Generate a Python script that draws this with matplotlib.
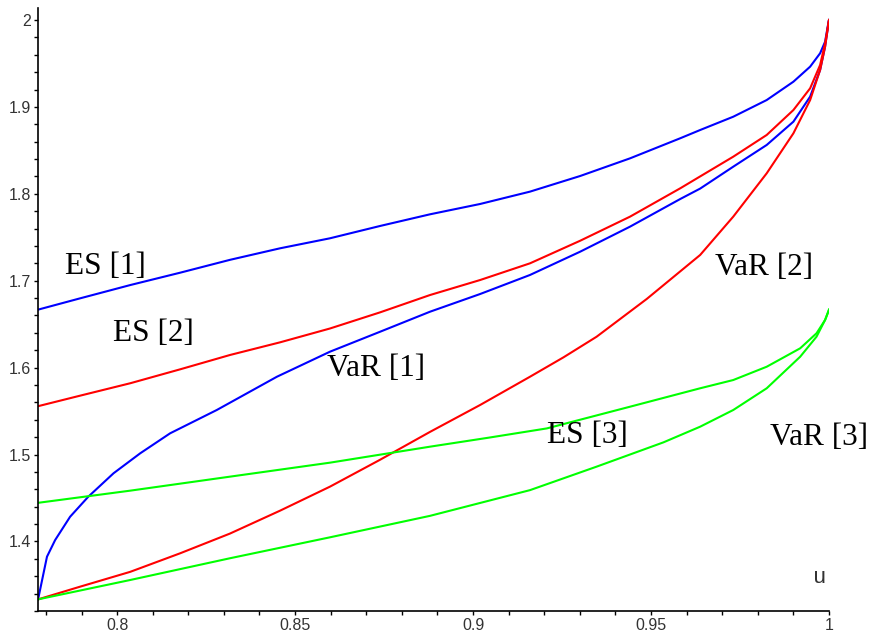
"""Risk-measure curves ES and VaR against the level u for three models."""

import matplotlib

matplotlib.use("Agg")
import matplotlib.pyplot as plt
from matplotlib.ticker import MultipleLocator

# ES [1] (blue, upper)
es1_u = [0.7778, 0.7896, 0.8037, 0.8177, 0.8317, 0.8458, 0.8598, 0.8739,
         0.8879, 0.9020, 0.9160, 0.9301, 0.9441, 0.9582, 0.9638, 0.9731,
         0.9825, 0.9900, 0.9947, 0.9975, 0.9989, 0.9998, 1.0]
es1_v = [1.6667, 1.6797, 1.6950, 1.7092, 1.7240, 1.7373, 1.7488, 1.7630,
         1.7764, 1.7883, 1.8025, 1.8205, 1.8408, 1.8639, 1.8734, 1.8887,
         1.9079, 1.9290, 1.9463, 1.9617, 1.9750, 1.9962, 2.0]

# VaR [1] (blue, lower)
var1_u = [0.7778, 0.7803, 0.7826, 0.7868, 0.7919, 0.7990, 0.8065, 0.8149,
          0.8280, 0.8449, 0.8598, 0.8739, 0.8879, 0.9020, 0.9160, 0.9301,
          0.9441, 0.9582, 0.9638, 0.9731, 0.9825, 0.9900, 0.9947, 0.9975,
          0.9989, 1.0]
var1_v = [1.3333, 1.3824, 1.4016, 1.4284, 1.4514, 1.4784, 1.5014, 1.5244,
          1.5512, 1.5895, 1.6183, 1.6413, 1.6643, 1.6847, 1.7066, 1.7334,
          1.7622, 1.7940, 1.8060, 1.8312, 1.8562, 1.8830, 1.9118, 1.9425,
          1.9693, 2.0]

# ES [2] (red, upper)
es2_u = [0.7778, 0.7896, 0.8037, 0.8177, 0.8317, 0.8458, 0.8598, 0.8739,
         0.8879, 0.9020, 0.9160, 0.9301, 0.9441, 0.9582, 0.9638, 0.9731,
         0.9825, 0.9900, 0.9947, 0.9975, 0.9989, 1.0]
es2_v = [1.5556, 1.5677, 1.5820, 1.5980, 1.6145, 1.6291, 1.6450, 1.6636,
         1.6835, 1.7008, 1.7200, 1.7460, 1.7737, 1.8063, 1.8200, 1.8427,
         1.8677, 1.8964, 1.9214, 1.9482, 1.9732, 2.0]

# VaR [2] (red, lower)
var2_u = [0.7778, 0.7896, 0.8037, 0.8177, 0.8317, 0.8458, 0.8598, 0.8739,
          0.8879, 0.9020, 0.9160, 0.9254, 0.9347, 0.9488, 0.9638, 0.9731,
          0.9825, 0.9900, 0.9947, 0.9975, 0.9989, 1.0]
var2_v = [1.3333, 1.3479, 1.3650, 1.3863, 1.4090, 1.4354, 1.4630, 1.4940,
          1.5260, 1.5570, 1.5895, 1.6118, 1.6355, 1.6790, 1.7296, 1.7737,
          1.8236, 1.8696, 1.9079, 1.9425, 1.9693, 2.0]

# ES [3] (green, upper)
es3_u = [0.7778, 0.8037, 0.8317, 0.8598, 0.8879, 0.9043, 0.9207, 0.9441,
         0.9638, 0.9731, 0.9825, 0.9919, 0.9965, 0.9989, 0.9998, 1.0]
es3_v = [1.4444, 1.4584, 1.4745, 1.4906, 1.5090, 1.5193, 1.5300, 1.5550,
         1.5762, 1.5857, 1.6010, 1.6222, 1.6395, 1.6548, 1.6643, 1.6667]

# VaR [3] (green, lower)
var3_u = [0.7778, 0.8037, 0.8317, 0.8598, 0.8879, 0.9160, 0.9347, 0.9535,
          0.9638, 0.9731, 0.9825, 0.9919, 0.9965, 0.9989, 1.0]
var3_v = [1.3333, 1.3556, 1.3806, 1.4047, 1.4294, 1.4590, 1.4860, 1.5140,
          1.5320, 1.5512, 1.5762, 1.6125, 1.6356, 1.6548, 1.6667]

x_ticks = [0.8, 0.85, 0.9, 0.95, 1.0]
x_tick_labels = ["0.8", "0.85", "0.9", "0.95", "1"]
y_ticks = [1.4, 1.5, 1.6, 1.7, 1.8, 1.9, 2.0]
y_tick_labels = ["1.4", "1.5", "1.6", "1.7", "1.8", "1.9", "2"]

labels = ["ES [1]", "ES [2]", "VaR [1]", "VaR [2]", "ES [3]", "VaR [3]"]
label_u = [0.7854, 0.7989, 0.8590, 0.9680, 0.9208, 0.9834]
label_v = [1.7077, 1.6310, 1.5903, 1.7066, 1.5129, 1.5109]

W, H = 877, 632
fig = plt.figure(figsize=(W / 100, H / 100), dpi=100)
ax = fig.add_axes([38 / W, 21 / H, (829 - 38) / W, (624 - 21) / H])

lw = 1.5
ax.plot(es1_u, es1_v, color="#0000ff", lw=lw)
ax.plot(var1_u, var1_v, color="#0000ff", lw=lw)
ax.plot(es2_u, es2_v, color="#ff0000", lw=lw)
ax.plot(var2_u, var2_v, color="#ff0000", lw=lw)
ax.plot(es3_u, es3_v, color="#00ff00", lw=lw)
ax.plot(var3_u, var3_v, color="#00ff00", lw=lw)

for text, u, v in zip(labels, label_u, label_v):
    ax.text(u, v, text, fontsize=22.5, family="Liberation Serif",
            ha="left", va="baseline", color="black")

ax.text(0.9955, 1.3521, "u", fontsize=16, family="Liberation Mono",
        ha="left", va="baseline", color="#333333")

ax.set_xlim(7 / 9, 1.0)
ax.set_ylim(1.31991, 2.01381)

for side in ("top", "right"):
    ax.spines[side].set_visible(False)
for side in ("left", "bottom"):
    ax.spines[side].set_linewidth(1.2)
    ax.spines[side].set_color("black")

ax.set_xticks(x_ticks)
ax.set_xticklabels(x_tick_labels)
ax.set_yticks(y_ticks)
ax.set_yticklabels(y_tick_labels)
ax.xaxis.set_minor_locator(MultipleLocator(0.01))
ax.yaxis.set_minor_locator(MultipleLocator(0.02))
ax.tick_params(which="both", direction="out", length=3, width=1,
               color="black", pad=2, labelsize=11.5, labelcolor="#333333")
for lbl in ax.get_xticklabels() + ax.get_yticklabels():
    lbl.set_family("Liberation Sans")

fig.savefig("out.png", dpi=100)
